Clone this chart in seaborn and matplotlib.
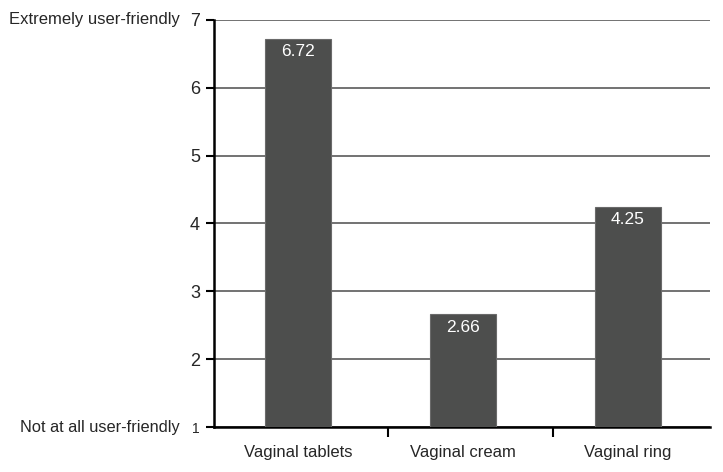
import matplotlib
matplotlib.use("Agg")
import matplotlib.pyplot as plt
import seaborn as sns
import pandas as pd

categories = ["Vaginal tablets", "Vaginal cream", "Vaginal ring"]
values = [6.72, 2.66, 4.25]
yticks = [1, 2, 3, 4, 5, 6, 7]
top_label = "Extremely user-friendly"
bottom_label = "Not at all user-friendly"

sns.set_style("white")
plt.rcParams["font.family"] = ["Liberation Sans", "DejaVu Sans"]

df = pd.DataFrame({"cat": categories, "val": values})

fig = plt.figure(figsize=(7.23, 4.72), dpi=100)
ax = fig.add_axes([0.296, 0.095, 0.686, 0.863])

base = 1
sns.barplot(data=df, x="cat", y=[v - base for v in values], ax=ax, color="#4d4e4d",
            width=0.4, edgecolor="#6a6a6a", linewidth=0.8, saturation=1, zorder=3)
for p in ax.patches:
    p.set_y(base)
ax.set_ylim(1, 7)
ax.set_xlim(-0.51, 2.5)

for y in yticks:
    ax.axhline(y, color="#5a5a5a", linewidth=1.2, zorder=1)

ax.set_yticks(yticks)
ax.set_yticklabels([str(t) for t in yticks], fontsize=13)
ax.get_yticklabels()[0].set_fontsize(10)
ax.tick_params(axis="y", direction="out", length=6, width=1.5, color="black", pad=4, left=True)

ax.set_xticks(range(len(categories)))
ax.set_xticklabels(categories, fontsize=12)
ax.tick_params(axis="x", length=0, pad=13)
ax.set_xticks([0.545, 1.545], minor=True)
ax.tick_params(axis="x", which="minor", direction="out", length=7, width=1.5, color="black", bottom=True)

ax.set_xlabel("")
ax.set_ylabel("")
for s in ["top", "right"]:
    ax.spines[s].set_visible(False)
ax.spines["left"].set_linewidth(1.8)
ax.spines["bottom"].set_linewidth(1.8)
ax.spines["left"].set_color("black")
ax.spines["bottom"].set_color("black")

for i, v in enumerate(values):
    ax.text(i, v - 0.08, f"{v:.2f}", ha="center", va="top", color="white", fontsize=12.5, zorder=4)

ax.text(-0.069, 7.0, top_label, transform=ax.get_yaxis_transform(), ha="right", va="center", fontsize=12)
ax.text(-0.069, 1.0, bottom_label, transform=ax.get_yaxis_transform(), ha="right", va="center", fontsize=11.8)

fig.savefig("out.png", dpi=100)
